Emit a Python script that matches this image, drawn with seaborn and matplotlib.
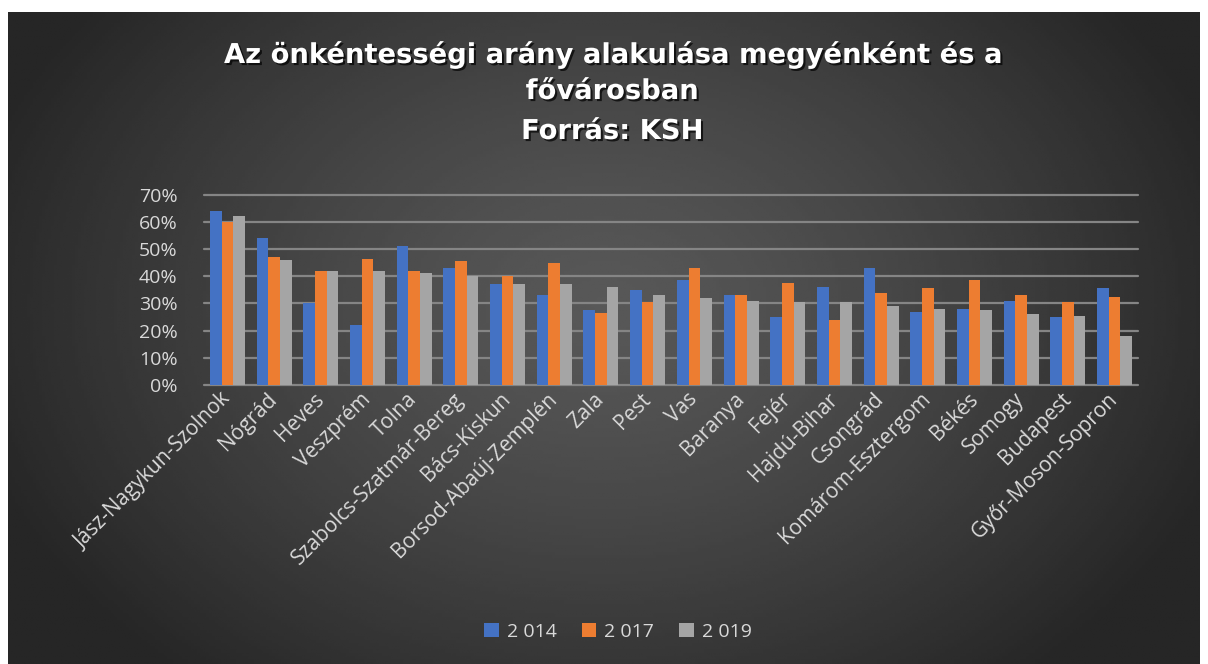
import numpy as np
import pandas as pd
import seaborn as sns
import matplotlib
matplotlib.use("Agg")
import matplotlib.pyplot as plt
import matplotlib.patheffects as pe
from matplotlib.ticker import PercentFormatter, MultipleLocator

# ---------------- data ----------------
megyek = ["Jász-Nagykun-Szolnok", "Nógrád", "Heves", "Veszprém", "Tolna",
          "Szabolcs-Szatmár-Bereg", "Bács-Kiskun", "Borsod-Abaúj-Zemplén", "Zala",
          "Pest", "Vas", "Baranya", "Fejér", "Hajdú-Bihar", "Csongrád",
          "Komárom-Esztergom", "Békés", "Somogy", "Budapest", "Győr-Moson-Sopron"]
evek = ["2 014", "2 017", "2 019"]
v2014 = [64, 54, 30, 22, 51, 43, 37, 33, 27.5, 35, 38.5, 33, 25, 36, 43, 27, 28, 31, 25, 35.5]
v2017 = [60, 47, 42, 46.5, 42, 45.5, 40, 45, 26.5, 30.5, 43, 33, 37.5, 24, 34, 35.5, 38.5, 33, 30.5, 32.5]
v2019 = [62, 46, 42, 42, 41, 40, 37, 37, 36, 33, 32, 31, 30.5, 30.5, 29, 28, 27.5, 26, 25.5, 18]
szinek = ["#4472C4", "#ED7D31", "#A5A5A5"]

rows = []
for ev, vals in zip(evek, [v2014, v2017, v2019]):
    for m, v in zip(megyek, vals):
        rows.append({"megye": m, "ev": ev, "arany": v / 100.0})
df = pd.DataFrame(rows)

# ---------------- style ----------------
sns.set_theme(style="dark")
plt.rcParams['font.family'] = ['Open Sans', 'DejaVu Sans']

W, H = 1208, 664
fig = plt.figure(figsize=(W / 100, H / 100), dpi=100, facecolor="white")

# background radial gradient
bg = fig.add_axes([8 / W, 0, 1192 / W, 652 / H])
bg.set_axis_off()
ny, nx = 200, 400
yy, xx = np.mgrid[0:1:ny * 1j, 0:1:nx * 1j]
r = np.sqrt(((xx - 0.5) / 0.55) ** 2 + ((yy - 0.45) / 0.75) ** 2)
r = np.clip(r, 0, 1)
c_center, c_edge = 88 / 255, 38 / 255
img = c_center + (c_edge - c_center) * r ** 1.3
bg.imshow(img, cmap="gray", vmin=0, vmax=1, aspect="auto", extent=[0, 1, 0, 1], origin="upper")

# main axes
ax = fig.add_axes([204 / W, (H - 385) / H, 934 / W, 190.4 / H])
ax.set_facecolor("none")
sns.barplot(data=df, x="megye", y="arany", hue="ev", palette=szinek, width=0.75,
            saturation=1, ax=ax, legend=True, linewidth=0, edgecolor="none")

ax.set_ylim(0, 0.7)
ax.set_xlim(-0.5, len(megyek) - 0.5)
ax.yaxis.set_major_locator(MultipleLocator(0.1))
ax.yaxis.set_major_formatter(PercentFormatter(1.0, decimals=0))
ax.set_axisbelow(True)
ax.grid(axis="y", color="#858585", linewidth=1.6)
ax.grid(axis="x", visible=False)
for gl in ax.get_ygridlines():
    gl.set_clip_on(False)
for s in ax.spines.values():
    s.set_visible(False)
ax.set_xlabel("")
ax.set_ylabel("")
ax.tick_params(axis="y", colors="#d9d9d9", labelsize=14, length=0, pad=19)
ax.tick_params(axis="x", colors="#d9d9d9", labelsize=15, length=0, pad=8)
for lab in ax.get_xticklabels():
    lab.set_rotation(45)
    lab.set_ha("right")
    lab.set_va("center")
    lab.set_rotation_mode("anchor")

# legend
handles, labels = ax.get_legend_handles_labels()
ax.get_legend().remove()
leg = fig.legend(handles, labels, loc="center", bbox_to_anchor=(618 / W, 1 - 632 / H),
                 ncol=3, frameon=False, fontsize=14, labelcolor="#d9d9d9",
                 handlelength=0.75, handleheight=0.75, handletextpad=0.4, columnspacing=1.3)

# title
shadow = [pe.SimplePatchShadow(offset=(1.5, -1.5), shadow_rgbFace="black", alpha=0.7), pe.Normal()]
title_lines = ["Az önkéntességi arány alakulása megyénként és a", "fővárosban", "Forrás: KSH"]
for txt, ypix in zip(title_lines, [55, 92, 132]):
    fig.text(612 / W, 1 - ypix / H, txt, ha="center", va="center", color="white",
             fontsize=19.7, fontweight="bold", family=["DejaVu Sans"], path_effects=shadow)

fig.savefig("out.png", dpi=100, facecolor="white")
